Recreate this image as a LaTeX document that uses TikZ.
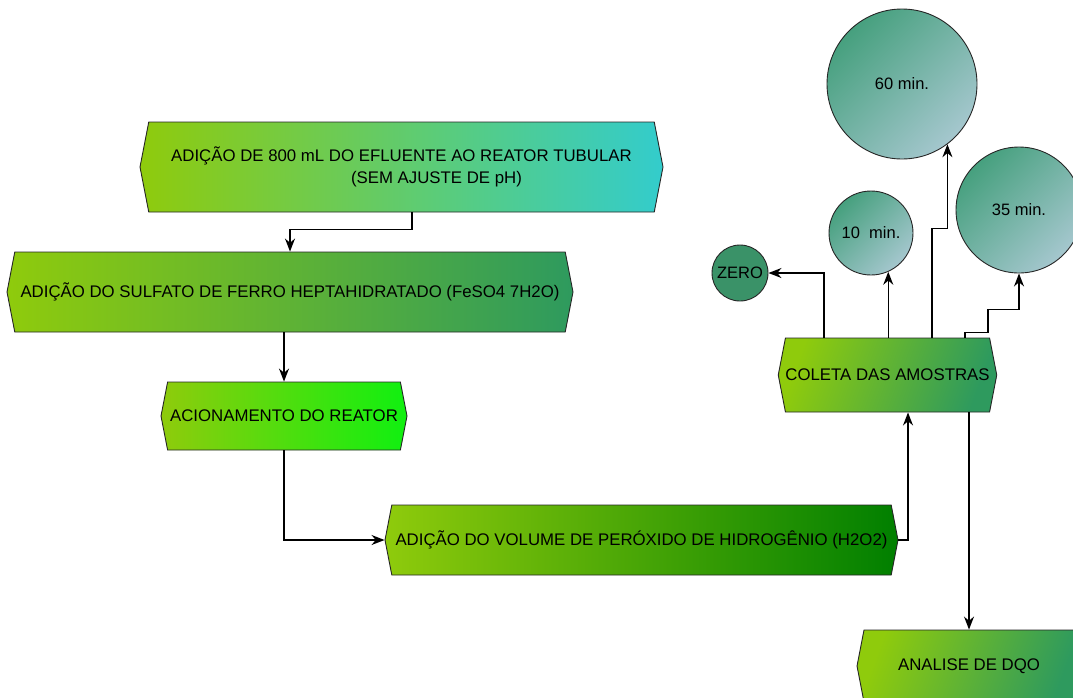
\documentclass[tikz,border=0pt]{standalone}
\usepackage{fontspec}
\setmainfont{Liberation Sans}
\usetikzlibrary{arrows.meta, shapes.symbols, calc}

% ---- cores ----
\definecolor{cstart}{HTML}{8FCB0C}   % verde-amarelo (inicio dos gradientes)
\definecolor{cteal}{HTML}{33CCCC}
\definecolor{csea}{HTML}{2E9A5E}
\definecolor{clime}{HTML}{10F010}
\definecolor{cdark}{HTML}{007F00}
\definecolor{ccirA}{HTML}{46A07E}
\definecolor{ccirB}{HTML}{A5C7CE}
\definecolor{czero}{HTML}{3A9268}

\begin{document}
\begin{tikzpicture}[x=1pt, y=-1pt,
    >={Stealth[length=13pt, width=10pt]},
    proc/.style={draw=black!85, line width=0.9pt, signal, signal to=east and west,
                 signal pointer angle=158, align=center, inner sep=0pt,
                 font=\fontsize{16.8}{22}\selectfont},
    sample/.style={draw=black!85, line width=0.9pt, circle, inner sep=0pt,
                   font=\fontsize{16.5}{19}\selectfont,
                   top color=ccirA, bottom color=ccirB, shading angle=45},
    arr/.style={->, line width=1.3pt},
]
\clip (0,0) rectangle (1073,697);
% ---- etapas do processo ----
\node[proc, minimum width=523pt, minimum height=90pt,
      left color=cstart, right color=cteal] (A) at (401.5,167)
      {ADIÇÃO DE 800 mL DO EFLUENTE AO REATOR TUBULAR\\
       \hspace*{70pt}(SEM AJUSTE DE pH)};
\node[proc, minimum width=566pt, minimum height=80pt,
      left color=cstart, right color=csea] (B) at (290,292)
      {ADIÇÃO DO SULFATO DE FERRO HEPTAHIDRATADO (FeSO4 7H2O)};
\node[proc, minimum width=246pt, minimum height=68pt,
      left color=cstart, right color=clime] (C) at (284,416)
      {ACIONAMENTO DO REATOR};
\node[proc, minimum width=513pt, minimum height=70pt,
      left color=cstart, right color=cdark] (D) at (641.5,540)
      {ADIÇÃO DO VOLUME DE PERÓXIDO DE HIDROGÊNIO (H2O2)};
\node[proc, minimum width=217pt, minimum height=74pt,
      top color=cstart, bottom color=csea, shading angle=70] (E) at (887.5,375)
      {COLETA DAS AMOSTRAS};
\node[proc, minimum width=224pt, minimum height=72pt,
      top color=cstart, bottom color=csea, shading angle=70] (F) at (969,666)
      {ANALISE DE DQO};

% ---- tempos de coleta ----
\node[sample, minimum size=56pt, top color=czero, bottom color=czero] (zero) at (740,273) {ZERO};
\node[sample, minimum size=84pt]  (c10) at (871,233) {10~~min.};
\node[sample, minimum size=126pt] (c35) at (1019,210) {35 min.};
\node[sample, minimum size=150pt] (c60) at (902,84) {60 min.};

% ---- conexoes ----
\draw[arr] ([xshift=10.5pt]A.south) |- ([yshift=22pt]B.north) -- (B.north);
\draw[arr] (C.north |- B.south) -- (C.north);
\draw[arr] (C.south) |- (D.west);
\draw[arr] (D.east) -| ([xshift=20.5pt]E.south);
\draw[arr] (E.south -| F.north) -- (F.north);

\draw[arr] ([xshift=-63.5pt]E.north) |- (zero.east);
\draw[arr] (E.north -| c10.-66) -- (c10.-66);
\draw[arr] ([xshift=44.5pt]E.north) -- ++(0,-109) -| (c60.-53);
\draw[arr] ([xshift=77.5pt]E.north) -- ++(0,-5) -- ++(23,0) -- ++(0,-23) -| (c35.south);
\end{tikzpicture}
\end{document}
